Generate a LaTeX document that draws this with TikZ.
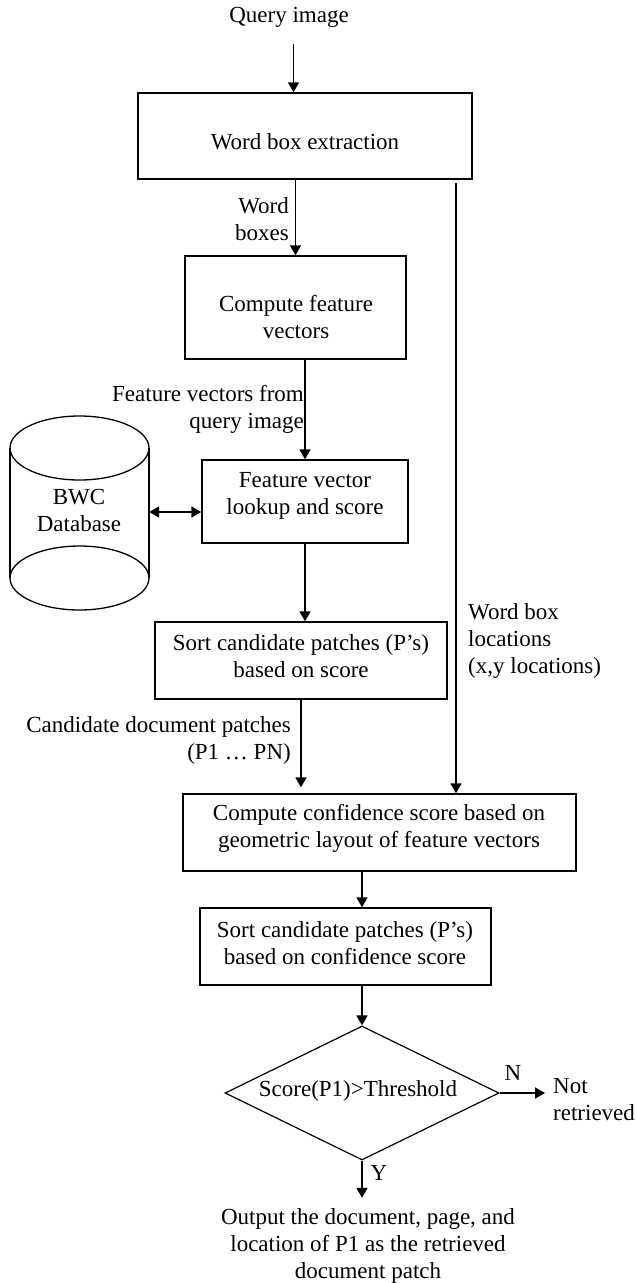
\documentclass[tikz,border=0pt]{standalone}
\usepackage{fontspec}
\setmainfont{Liberation Serif}
\usetikzlibrary{arrows.meta,shapes.geometric}
\begin{document}
\begin{tikzpicture}[x=1pt,y=-1pt,
  every node/.style={font=\fontsize{23}{27}\selectfont, inner sep=0pt},
  box/.style={draw, line width=1.4pt},
  txt/.style={align=center},
  arr/.style={line width=1.7pt, -{Triangle[length=10pt,width=11pt]}},
  dbl/.style={line width=1.7pt, {Triangle[length=10pt,width=11pt]}-{Triangle[length=10pt,width=11pt]}},
  ln/.style={line width=1.3pt}]
\useasboundingbox (0,0) rectangle (636,1283);

% title
\node (q) at (289,17) {Query image};
\coordinate (qa) at (293.5,44);

% boxes
\node[box, minimum width=334pt, minimum height=86pt] (b1) at (305,136) {};
\node[txt] (t1) at (305,142) {Word box extraction};
\node[box, minimum width=221pt, minimum height=103pt] (b2) at (295.5,307.5) {};
\node[txt] (t2) at (296,317.5) {Compute feature\\vectors};
\node[box, minimum width=206pt, minimum height=83pt] (b3) at (305,501.5) {};
\node[txt] (t3) at (305,495.5) {Feature vector\\lookup and score};
\node[box, minimum width=292pt, minimum height=77pt] (b4) at (301,660.5) {};
\node[txt] (t4) at (301,656) {Sort candidate patches (P’s)\\based on score};
\node[box, minimum width=393pt, minimum height=77pt] (b5) at (379.5,832.5) {};
\node[txt] (t5) at (379,828.5) {Compute confidence score based on\\geometric layout of feature vectors};
\node[box, minimum width=291pt, minimum height=77pt] (b6) at (345.5,946.5) {};
\node[txt] (t6) at (345,943.5) {Sort candidate patches (P’s)\\based on confidence score};

% decision
\node[draw, diamond, line width=1.2pt, aspect=2.04, minimum width=274pt, minimum height=134pt] (d) at (362,1093) {};
\node (dt) at (358,1091) {Score(P1)>Threshold};

% database cylinder
\node[minimum width=139pt, minimum height=195pt] (db) at (79.5,512) {};
\node[txt] (dbt) at (79,510) {BWC\\Database};
\draw[ln] (79.5,448) ellipse [x radius=69.5pt, y radius=32pt];
\draw[ln] (79.5,578) ellipse [x radius=69.5pt, y radius=32pt];
\draw[ln] (10,448) -- (10,578);
\draw[ln] (149,448) -- (149,578);

% labels
\node[align=right, anchor=east] (l1) at (289,219.5) {Word\\boxes};
\node[align=right, anchor=east] (l2) at (304,409) {Feature vectors from\\query image};
\node[align=right, anchor=east] (l3) at (291,740) {Candidate document patches\\(P1 … PN)};
\node[align=left, anchor=west] (l4) at (468,641) {Word box\\locations\\(x,y locations)};
\node (n) at (513,1073) {N};
\node (y) at (379,1173) {Y};
\node[align=left, anchor=west] (nr) at (553,1099.5) {Not\\retrieved};
\node[txt] (out) at (368,1245.5) {Output the document, page, and\\location of P1 as the retrieved\\document patch};

% connectors
\draw[arr] (qa) -- (qa |- b1.north);
\draw[arr] (b1.south -| b2.north) -- (b2.north);
\draw[arr] (b2.south -| b3.north) -- (b3.north);
\draw[dbl] (db.east) -- (db.east -| b3.west);
\draw[arr] (b3.south) -- (b3.south |- b4.north);
\draw[arr, shorten >=6pt] (b4.south) -- (b4.south |- b5.north);
\coordinate (ls) at (456,183);
\draw[arr] (ls) -- (ls |- b5.north);
\draw[arr] (b5.south -| d.north) -- (b6.north -| d.north);
\draw[arr] (b6.south -| d.north) -- (d.north);
\draw[arr, shorten >=10pt] (d.south) -- (d.south |- out.north);
\draw[arr, shorten >=8pt] (d.east) -- (d.east -| nr.west);
\end{tikzpicture}
\end{document}
